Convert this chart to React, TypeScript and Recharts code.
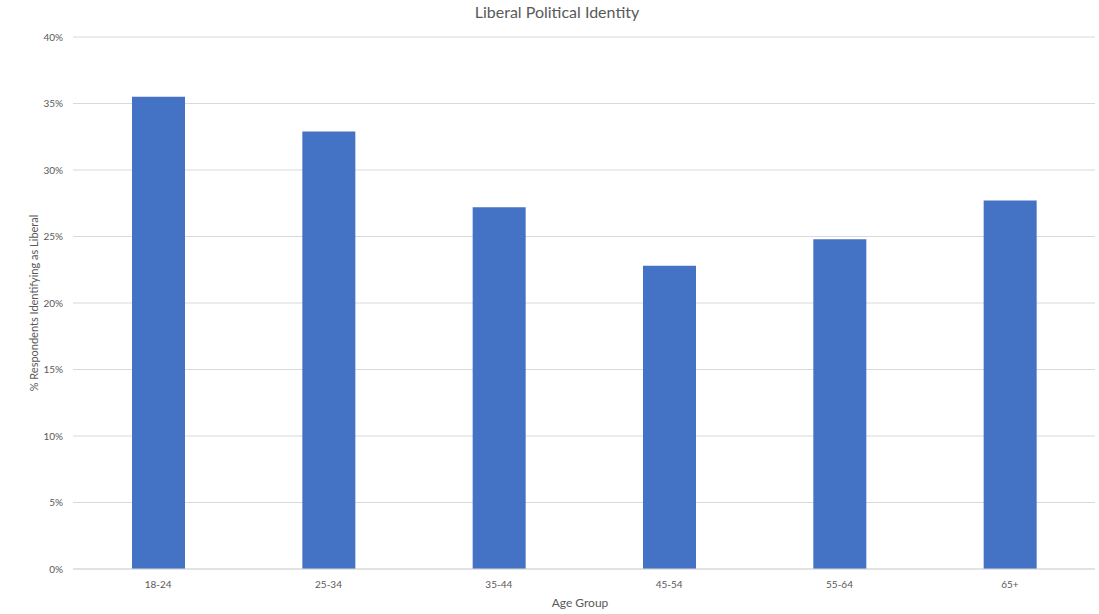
import { BarChart, Bar, XAxis, YAxis, CartesianGrid } from "recharts";

const ageGroups = ["18-24", "25-34", "35-44", "45-54", "55-64", "65+"];
const liberalShare = [35.5, 32.9, 27.2, 22.8, 24.8, 27.7];
const yTicks = [0, 5, 10, 15, 20, 25, 30, 35, 40];

const data = ageGroups.map((group, i) => ({ group, liberal: liberalShare[i] }));

const FONT = "Lato, 'Open Sans', sans-serif";
const AXIS_GREY = "#595959";

function YLabel({ viewBox }: any) {
  const cy = viewBox.y + viewBox.height / 2;
  return (
    <text
      x={33}
      y={cy}
      transform={`rotate(-90, 33, ${cy})`}
      textAnchor="middle"
      dominantBaseline="central"
      fontSize={11}
      fontFamily={FONT}
      fill={AXIS_GREY}
    >
      % Respondents Identifying as Liberal
    </text>
  );
}

function XLabel({ viewBox }: any) {
  const cx = viewBox.x + viewBox.width / 2;
  return (
    <text
      x={cx - 4}
      y={607}
      textAnchor="middle"
      fontSize={12}
      fontFamily={FONT}
      fill={AXIS_GREY}
    >
      Age Group
    </text>
  );
}

export default function App() {
  return (
    <div style={{ position: "absolute", left: 0, top: 0, background: "#fff" }}>
      <BarChart
        width={1099}
        height={614}
        data={data}
        margin={{ top: 37, right: 4, bottom: 0, left: 8 }}
      >
        <text
          x={557}
          y={18}
          textAnchor="middle"
          fontSize={16}
          fontFamily={FONT}
          fill={AXIS_GREY}
        >
          Liberal Political Identity
        </text>
        <CartesianGrid vertical={false} stroke="#d9d9d9" />
        <XAxis
          dataKey="group"
          height={45}
          stroke="#d9d9d9"
          tickLine={false}
          tickSize={0}
          tickMargin={12}
          tick={{ fontSize: 10, fontFamily: FONT, fill: AXIS_GREY }}
          label={<XLabel />}
        />
        <YAxis
          width={65}
          domain={[0, 40]}
          ticks={yTicks}
          tickFormatter={(v: number) => `${v}%`}
          axisLine={false}
          tickLine={false}
          tickSize={0}
          tickMargin={10}
          tick={{ fontSize: 10, fontFamily: FONT, fill: AXIS_GREY }}
          label={<YLabel />}
        />
        <Bar
          dataKey="liberal"
          fill="#4472c4"
          barSize={53}
          isAnimationActive={false}
        />
      </BarChart>
    </div>
  );
}
